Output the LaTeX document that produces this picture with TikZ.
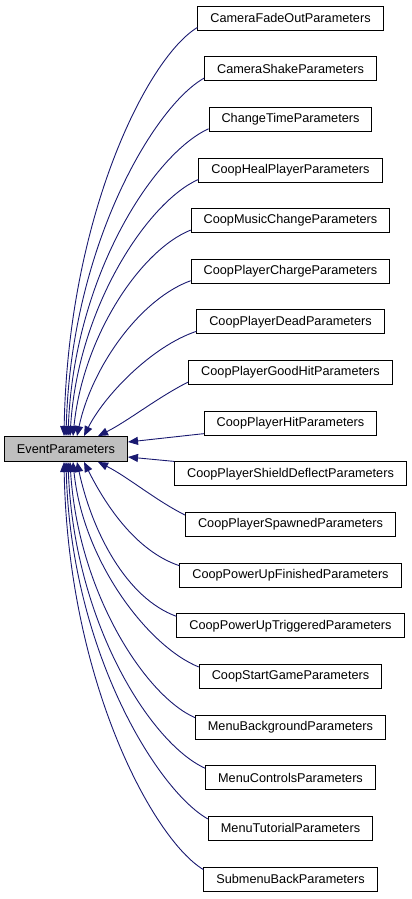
\documentclass[tikz,border=0pt]{standalone}
\usepackage{fontspec}
\setmainfont{Liberation Sans}
\usetikzlibrary{arrows.meta}
\definecolor{edgeblue}{HTML}{191970}
\begin{document}
\begin{tikzpicture}
[
    x=1pt, y=-1pt,
    cls/.style={draw, line width=0.9pt, fill=white, minimum height=24pt, inner xsep=12.5pt, inner ysep=0pt, font=\fontsize{12.7}{15}\selectfont},
    base/.style={cls, fill=gray!50, minimum height=25pt},
    inh/.style={draw=edgeblue, line width=0.9pt, -{Triangle[length=10pt, width=8pt]}}
]
    \useasboundingbox (0,0) rectangle (412,899);

    \node [base] (ev) at (66,449) {EventParameters};

    \node [cls] (n1) at (290.5,18) {CameraFadeOutParameters};
    \node [cls] (n2) at (290.5,68.65) {CameraShakeParameters};
    \node [cls] (n3) at (290.5,119.3) {ChangeTimeParameters};
    \node [cls] (n4) at (290.5,169.95) {CoopHealPlayerParameters};
    \node [cls] (n5) at (290.5,220.6) {CoopMusicChangeParameters};
    \node [cls] (n6) at (290.5,271.25) {CoopPlayerChargeParameters};
    \node [cls] (n7) at (290.5,321.9) {CoopPlayerDeadParameters};
    \node [cls] (n8) at (290.5,372.55) {CoopPlayerGoodHitParameters};
    \node [cls] (n9) at (290.5,423.2) {CoopPlayerHitParameters};
    \node [cls] (n10) at (290.5,473.85) {CoopPlayerShieldDeflectParameters};
    \node [cls] (n11) at (290.5,524.5) {CoopPlayerSpawnedParameters};
    \node [cls] (n12) at (290.5,575.15) {CoopPowerUpFinishedParameters};
    \node [cls] (n13) at (290.5,625.8) {CoopPowerUpTriggeredParameters};
    \node [cls] (n14) at (290.5,676.45) {CoopStartGameParameters};
    \node [cls] (n15) at (290.5,727.1) {MenuBackgroundParameters};
    \node [cls] (n16) at (290.5,777.75) {MenuControlsParameters};
    \node [cls] (n17) at (290.5,828.4) {MenuTutorialParameters};
    \node [cls] (n18) at (290.5,879.05) {SubmenuBackParameters};

    \draw [inh] ([yshift=3pt]n1.south west) .. controls +(-50,30) and +(4,-220) .. ([xshift=-2pt]ev.north);
    \draw [inh] ([yshift=3pt]n2.south west) .. controls +(-50,28) and +(5,-190) .. (ev.north);
    \draw [inh] ([yshift=3pt]n3.south west) .. controls +(-55,25) and +(6,-160) .. ([xshift=2pt]ev.north);
    \draw [inh] ([yshift=3pt]n4.south west) .. controls +(-50,22) and +(8,-130) .. ([xshift=4pt]ev.north);
    \draw [inh] ([yshift=3pt]n5.south west) .. controls +(-50,20) and +(10,-100) .. ([xshift=7pt]ev.north);
    \draw [inh] ([yshift=3pt]n6.south west) .. controls +(-50,18) and +(15,-70) .. ([xshift=11pt]ev.north);
    \draw [inh] ([yshift=3pt]n7.south west) .. controls +(-45,15) and +(20,-40) .. ([xshift=18pt]ev.north);
    \draw [inh] ([yshift=3pt]n8.south west) .. controls +(-30,15) and +(30,-15) .. ([xshift=32pt]ev.north);
    \draw [inh] ([yshift=2pt]n9.south west) -- ([yshift=7pt]ev.east);
    \draw [inh] (n10.north west) -- ([yshift=-8pt]ev.east);
    \draw [inh] ([yshift=-3pt]n11.north west) .. controls +(-30,-15) and +(30,15) .. ([xshift=32pt]ev.south);
    \draw [inh] ([yshift=-3pt]n12.north west) .. controls +(-45,-15) and +(20,40) .. ([xshift=18pt]ev.south);
    \draw [inh] ([yshift=-3pt]n13.north west) .. controls +(-50,-18) and +(15,70) .. ([xshift=11pt]ev.south);
    \draw [inh] ([yshift=-3pt]n14.north west) .. controls +(-50,-20) and +(10,100) .. ([xshift=7pt]ev.south);
    \draw [inh] ([yshift=-3pt]n15.north west) .. controls +(-50,-22) and +(8,130) .. ([xshift=4pt]ev.south);
    \draw [inh] ([yshift=-3pt]n16.north west) .. controls +(-55,-25) and +(6,160) .. ([xshift=2pt]ev.south);
    \draw [inh] ([yshift=-3pt]n17.north west) .. controls +(-50,-28) and +(5,190) .. (ev.south);
    \draw [inh] ([yshift=-3pt]n18.north west) .. controls +(-50,-30) and +(4,220) .. ([xshift=-2pt]ev.south);
\end{tikzpicture}
\end{document}
